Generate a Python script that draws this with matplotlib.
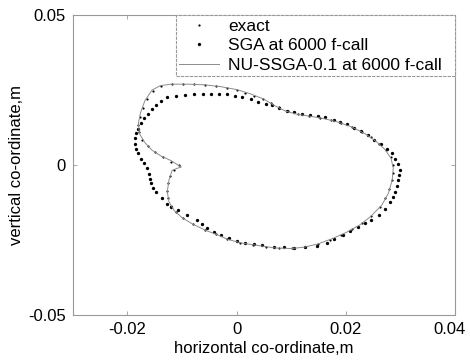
import matplotlib
matplotlib.use("Agg")
import matplotlib.pyplot as plt
import matplotlib.transforms as mtransforms

plt.rcParams['font.family'] = ['Liberation Sans', 'DejaVu Sans']

# exact path points (small dots)
exact_x = [-0.0105, -0.0120, -0.0135, -0.0150, -0.0163, -0.0173, -0.0179, -0.0180, -0.0177, -0.0171,
           -0.0164, -0.0153, -0.0138, -0.0118, -0.0098, -0.0078, -0.0058, -0.0038, -0.0018, 0.0000,
           0.0016, 0.0032, 0.0048, 0.0063, 0.0078, 0.0094, 0.0112, 0.0132, 0.0152, 0.0172,
           0.0192, 0.0211, 0.0229, 0.0246, 0.0261, 0.0273, 0.0282, 0.0286, 0.0286, 0.0284,
           0.0280, 0.0272, 0.0262, 0.0247, 0.0230, 0.0212, 0.0192, 0.0171, 0.0149, 0.0126,
           0.0102, 0.0078, 0.0054, 0.0030, 0.0006, -0.0017, -0.0038, -0.0058, -0.0080, -0.0098,
           -0.0111, -0.0120, -0.0125, -0.0127, -0.0126, -0.0122, -0.0115]
exact_y = [0.0000, 0.0012, 0.0027, 0.0043, 0.0063, 0.0085, 0.0110, 0.0135, 0.0160, 0.0190,
           0.0220, 0.0248, 0.0264, 0.0270, 0.0270, 0.0269, 0.0267, 0.0263, 0.0257, 0.0250,
           0.0242, 0.0232, 0.0221, 0.0208, 0.0194, 0.0180, 0.0172, 0.0165, 0.0158, 0.0151,
           0.0141, 0.0128, 0.0112, 0.0093, 0.0072, 0.0050, 0.0026, 0.0000, -0.0025, -0.0050,
           -0.0080, -0.0110, -0.0140, -0.0168, -0.0192, -0.0213, -0.0232, -0.0249, -0.0262, -0.0272,
           -0.0277, -0.0277, -0.0273, -0.0266, -0.0258, -0.0246, -0.0230, -0.0216, -0.0196, -0.0177,
           -0.0157, -0.0135, -0.0110, -0.0085, -0.0060, -0.0035, -0.0015]

# SGA result at 6000 f-call (large dots)
sga_x = [-0.0072, -0.0090, -0.0108, -0.0120, -0.0127, -0.0136, -0.0148, -0.0153, -0.0157, -0.0158,
         -0.0160, -0.0165, -0.0169, -0.0175, -0.0181, -0.0185, -0.0187, -0.0186, -0.0184, -0.0180,
         -0.0175, -0.0169, -0.0163, -0.0155, -0.0148, -0.0138, -0.0127, -0.0111, -0.0094, -0.0078,
         -0.0062, -0.0047, -0.0032, -0.0017, -0.0003, 0.0010, 0.0026, 0.0040, 0.0053, 0.0065,
         0.0077, 0.0092, 0.0106, 0.0120, 0.0135, 0.0149, 0.0162, 0.0178, 0.0190, 0.0202,
         0.0215, 0.0228, 0.0240, 0.0252, 0.0264, 0.0275, 0.0284, 0.0290, 0.0296, 0.0299,
         0.0298, 0.0296, 0.0293, 0.0290, 0.0286, 0.0281, 0.0271, 0.0260, 0.0247, 0.0235,
         0.0223, 0.0208, 0.0194, 0.0178, 0.0165, 0.0147, 0.0126, 0.0105, 0.0086, 0.0068,
         0.0047, 0.0032, 0.0016, 0.0001, -0.0014, -0.0029, -0.0041, -0.0054, -0.0063]
sga_y = [-0.0183, -0.0165, -0.0150, -0.0138, -0.0128, -0.0111, -0.0089, -0.0075, -0.0061, -0.0045,
         -0.0028, -0.0010, 0.0006, 0.0022, 0.0039, 0.0055, 0.0072, 0.0089, 0.0106, 0.0122,
         0.0139, 0.0156, 0.0172, 0.0188, 0.0202, 0.0215, 0.0226, 0.0231, 0.0234, 0.0236,
         0.0237, 0.0237, 0.0237, 0.0236, 0.0232, 0.0226, 0.0220, 0.0212, 0.0205, 0.0199,
         0.0189, 0.0180, 0.0176, 0.0172, 0.0167, 0.0163, 0.0159, 0.0152, 0.0144, 0.0136,
         0.0125, 0.0113, 0.0099, 0.0085, 0.0070, 0.0055, 0.0040, 0.0022, 0.0005, -0.0017,
         -0.0033, -0.0050, -0.0070, -0.0089, -0.0105, -0.0122, -0.0145, -0.0167, -0.0183, -0.0194,
         -0.0206, -0.0220, -0.0232, -0.0245, -0.0258, -0.0268, -0.0274, -0.0276, -0.0274, -0.0272,
         -0.0267, -0.0263, -0.0259, -0.0252, -0.0244, -0.0233, -0.0222, -0.0211, -0.0197]

# NU-SSGA-0.1 result at 6000 f-call (thin line)
nu_x = [-0.0102, -0.0120, -0.0138, -0.0155, -0.0168, -0.0178, -0.0180, -0.0176, -0.0168, -0.0155,
        -0.0140, -0.0120, -0.0090, -0.0060, -0.0030, 0.0000, 0.0025, 0.0050, 0.0070, 0.0090,
        0.0110, 0.0135, 0.0160, 0.0185, 0.0210, 0.0235, 0.0255, 0.0272, 0.0283, 0.0287,
        0.0285, 0.0278, 0.0266, 0.0245, 0.0225, 0.0200, 0.0175, 0.0150, 0.0125, 0.0100,
        0.0070, 0.0040, 0.0010, -0.0015, -0.0038, -0.0057, -0.0081, -0.0100, -0.0114, -0.0124,
        -0.0127, -0.0124, -0.0118, -0.0102]
nu_y = [-0.0006, 0.0015, 0.0030, 0.0050, 0.0075, 0.0105, 0.0140, 0.0175, 0.0215, 0.0250,
        0.0265, 0.0270, 0.0270, 0.0268, 0.0262, 0.0252, 0.0238, 0.0220, 0.0198, 0.0180,
        0.0170, 0.0163, 0.0155, 0.0144, 0.0128, 0.0105, 0.0080, 0.0052, 0.0022, -0.0010,
        -0.0050, -0.0094, -0.0133, -0.0172, -0.0200, -0.0225, -0.0245, -0.0262, -0.0273, -0.0278,
        -0.0276, -0.0268, -0.0260, -0.0248, -0.0230, -0.0217, -0.0196, -0.0175, -0.0152, -0.0122,
        -0.0089, -0.0050, -0.0017, -0.0006]

xticks = [-0.02, 0, 0.02, 0.04]
xticklabels = ['-0.02', '0', '0.02', '0.04']
yticks = [-0.05, 0, 0.05]
yticklabels = ['-0.05', '0', '0.05']

fig = plt.figure(figsize=(4.70, 3.61), dpi=100)
ax = fig.add_axes([0.155, 0.127, 0.813, 0.831])

ax.plot(exact_x, exact_y, linestyle='none', marker='o', markersize=1.6,
        color='black', markeredgewidth=0, label='exact')
ax.plot(sga_x, sga_y, linestyle='none', marker='o', markersize=2.4,
        color='black', markeredgewidth=0, label='SGA at 6000 f-call')
ax.plot(nu_x, nu_y, linestyle='-', linewidth=0.7, color='0.55',
        label='NU-SSGA-0.1 at 6000 f-call')

ax.set_xlim(-0.03, 0.04)
ax.set_ylim(-0.05, 0.05)
ax.set_xticks(xticks)
ax.set_xticklabels(xticklabels)
ax.set_yticks(yticks)
ax.set_yticklabels(yticklabels)
ax.tick_params(direction='in', length=3, width=0.6, color='0.6',
               top=True, right=True, labelsize=12, pad=5)
# nudge the last x tick label so it stays inside the figure
last = ax.get_xticklabels()[-1]
last.set_transform(last.get_transform() +
                   mtransforms.ScaledTranslation(-5 / 100, 0, fig.dpi_scale_trans))
for s in ax.spines.values():
    s.set_color('0.6')
    s.set_linewidth(0.8)
    s.set_linestyle((0, (3, 1)))

ax.set_xlabel('horizontal co-ordinate,m', fontsize=12, labelpad=3)
ax.set_ylabel('vertical co-ordinate,m', fontsize=12, labelpad=3)

leg = ax.legend(loc='upper right', bbox_to_anchor=(0.27, 0.0, 0.73, 1.0),
                mode='expand', fontsize=12.5, frameon=True, fancybox=False,
                borderaxespad=0, edgecolor='0.6', framealpha=1,
                handlelength=2.3, labelspacing=0.25, borderpad=0.2,
                handletextpad=0.5)
leg.get_frame().set_linewidth(0.8)
leg.get_frame().set_linestyle((0, (3, 1)))

fig.savefig('out.png', dpi=100)
